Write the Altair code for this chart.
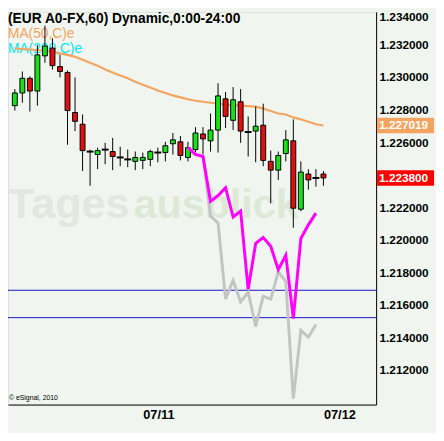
import altair as alt
import pandas as pd

# ---------------- data ----------------
idx = list(range(1, 43))
opens = [1.22824, 1.22902, 1.22992, 1.22914, 1.23130, 1.23178, 1.23064, 1.23028, 1.22782, 1.22710,
         1.22542, 1.22524, 1.22554, 1.22542, 1.22506, 1.22494, 1.22482, 1.22488, 1.22494, 1.22536,
         1.22536, 1.22590, 1.22602, 1.22506, 1.22554, 1.22650, 1.22608, 1.22674, 1.22866, 1.22734,
         1.22848, 1.22662, 1.22668, 1.22704, 1.22482, 1.22428, 1.22530, 1.22608, 1.22188, 1.22404,
         1.22380, 1.22404]
highs = [1.22926, 1.23034, 1.23004, 1.23196, 1.23316, 1.23238, 1.23136, 1.23040, 1.22998, 1.22770,
         1.22554, 1.22566, 1.22596, 1.22626, 1.22572, 1.22554, 1.22542, 1.22536, 1.22554, 1.22566,
         1.22602, 1.22656, 1.22638, 1.22602, 1.22692, 1.22692, 1.22776, 1.22962, 1.22908, 1.22938,
         1.22926, 1.22758, 1.22818, 1.22836, 1.22548, 1.22542, 1.22674, 1.22740, 1.22482, 1.22434,
         1.22434, 1.22422]
lows = [1.22794, 1.22842, 1.22788, 1.22824, 1.23088, 1.23046, 1.22998, 1.22584, 1.22668, 1.22422,
        1.22332, 1.22434, 1.22464, 1.22428, 1.22452, 1.22446, 1.22428, 1.22434, 1.22452, 1.22476,
        1.22482, 1.22524, 1.22488, 1.22482, 1.22536, 1.22524, 1.22542, 1.22536, 1.22686, 1.22674,
        1.22596, 1.22512, 1.22476, 1.22452, 1.22224, 1.22368, 1.22482, 1.22074, 1.22176, 1.22308,
        1.22326, 1.22332]
closes = [1.22902, 1.22992, 1.22914, 1.23136, 1.23190, 1.23070, 1.23034, 1.22794, 1.22728, 1.22548,
          1.22542, 1.22548, 1.22554, 1.22512, 1.22506, 1.22494, 1.22506, 1.22506, 1.22542, 1.22536,
          1.22578, 1.22614, 1.22518, 1.22566, 1.22656, 1.22620, 1.22674, 1.22884, 1.22758, 1.22860,
          1.22668, 1.22662, 1.22698, 1.22488, 1.22428, 1.22518, 1.22614, 1.22194, 1.22416, 1.22368,
          1.22380, 1.22380]
ma50 = [1.23175, 1.23172, 1.23169, 1.23166, 1.23160, 1.23154, 1.23145, 1.23136, 1.23124, 1.23106,
        1.23088, 1.23070, 1.23046, 1.23028, 1.23010, 1.22992, 1.22971, 1.22953, 1.22935, 1.22917,
        1.22902, 1.22887, 1.22875, 1.22863, 1.22854, 1.22848, 1.22842, 1.22836, 1.22830, 1.22827,
        1.22824, 1.22821, 1.22818, 1.22806, 1.22791, 1.22776, 1.22770, 1.22752, 1.22740, 1.22725,
        1.22710, 1.22702]
ind_idx = list(range(24, 42))
magenta_vals = [1.22566, 1.22524, 1.22512, 1.22236, 1.22272, 1.22320, 1.22140, 1.22176, 1.21696,
                1.21978, 1.22014, 1.21960, 1.21816, 1.21906, 1.21516, 1.22008, 1.22092, 1.22164]
gray_vals = [1.22566, 1.22524, 1.22512, 1.22146, 1.22104, 1.21636, 1.21750, 1.21618, 1.21678,
             1.21468, 1.21654, 1.21636, 1.21804, 1.21744, 1.21024, 1.21444, 1.21402, 1.21480]
levels = [1.21690, 1.21522]
# 1.224000 is hidden behind the last-price badge in the reference
y_ticks = [1.212, 1.214, 1.216, 1.218, 1.220, 1.222, 1.226, 1.228, 1.230, 1.232, 1.234]
x_tick_idx = [18, 42]
x_tick_labels = ["07/11", "07/12"]
badge_vals = [1.227019, 1.223800]
badge_colors = ["#f4a460", "#ff0000"]
title_text = "(EUR A0-FX,60) Dynamic,0:00-24:00"
legend_texts = ["MA(50,C)e", "MA(200,C)e"]
legend_colors = ["#f4a460", "#00e8f0"]

FONT = "Liberation Sans"
BG = "#f0f6ef"

candles = pd.DataFrame({"i": idx, "o": opens, "h": highs, "l": lows, "c": closes})
ma_df = pd.DataFrame({"i": idx, "v": ma50})
mag_df = pd.DataFrame({"i": ind_idx, "v": magenta_vals})
gray_df = pd.DataFrame({"i": ind_idx, "v": gray_vals})
lev_df = pd.DataFrame({"v": levels})
badge_df = pd.DataFrame({"v": badge_vals, "col": badge_colors})

label_expr = " : ".join(
    [f"datum.value == {v} ? '{t}'" for v, t in zip(x_tick_idx, x_tick_labels)]) + " : ''"

xscale = alt.Scale(domain=[0.746, 48.347], nice=False, zero=False)
yscale = alt.Scale(domain=[1.20988, 1.234], nice=False, zero=False)

X = alt.X("i:Q", scale=xscale, axis=alt.Axis(
    values=x_tick_idx, labelExpr=label_expr, orient="bottom", grid=False, ticks=False,
    domainColor="black", labelAlign="left", labelFont=FONT, labelFontSize=13,
    labelFontWeight="bold", labelColor="black", labelPadding=4, title=None))


def Y(field):
    return alt.Y(field, scale=yscale, axis=alt.Axis(
        values=y_ticks, format=".6f", orient="right", grid=False, ticks=False,
        domainColor="black", labelFont=FONT, labelFontSize=12, labelFontWeight="bold",
        labelColor="black", labelPadding=3, labelFlush=True, title=None))


one = pd.DataFrame({"k": [0]})

watermark1 = alt.Chart(one).mark_text(
    text="Tages", font=FONT, fontSize=44, fontWeight="bold", color="#e2e7e1",
    align="left", baseline="alphabetic").encode(x=alt.value(0), y=alt.value(210))
watermark2 = alt.Chart(one).mark_text(
    text="ausblick", font=FONT, fontSize=42, fontWeight="bold", color="#dde9d6",
    align="left", baseline="alphabetic").encode(x=alt.value(128), y=alt.value(210))

title = alt.Chart(one).mark_text(
    text=title_text, font=FONT, fontSize=14, fontWeight="bold", color="black",
    align="left", baseline="top").encode(x=alt.value(0), y=alt.value(0))
leg1 = alt.Chart(one).mark_text(
    text=legend_texts[0], font=FONT, fontSize=14, color=legend_colors[0],
    align="left", baseline="middle").encode(x=alt.value(0), y=alt.value(23))
leg2 = alt.Chart(one).mark_text(
    text=legend_texts[1], font=FONT, fontSize=14, color=legend_colors[1],
    align="left", baseline="middle").encode(x=alt.value(0), y=alt.value(38))
copyright_t = alt.Chart(one).mark_text(
    text="© eSignal, 2010", font=FONT, fontSize=7, color="black",
    align="left", baseline="middle").encode(x=alt.value(1), y=alt.value(393))

hlines = alt.Chart(lev_df).mark_rule(color="#1414c8", strokeWidth=1).encode(y=Y("v:Q"))

ma_line = alt.Chart(ma_df).mark_line(color="#f4a460", strokeWidth=2.2).encode(x=X, y=Y("v:Q"))

base = alt.Chart(candles).transform_calculate(
    dir="datum.c > datum.o ? 'up' : (datum.c < datum.o ? 'down' : 'doji')")

wicks = base.mark_rule(color="black", strokeWidth=1).encode(x=X, y=Y("l:Q"), y2="h:Q")
bodies = base.transform_filter("datum.dir != 'doji'").mark_bar(
    size=5, stroke="black", strokeWidth=1).encode(
    x=X, y=Y("o:Q"), y2="c:Q",
    color=alt.Color("dir:N", scale=alt.Scale(domain=["up", "down"], range=["#16e016", "#e01010"]),
                    legend=None))
dojis = base.transform_filter("datum.dir == 'doji'").mark_tick(
    orient="horizontal", thickness=2, size=7, color="black", opacity=1).encode(x=X, y=Y("o:Q"))

gray_line = alt.Chart(gray_df).mark_line(color="#c4c4c4", strokeWidth=3).encode(x=X, y=Y("v:Q"))
mag_line = alt.Chart(mag_df).mark_line(color="#ff00ff", strokeWidth=3).encode(x=X, y=Y("v:Q"))

badge_base = alt.Chart(badge_df).transform_calculate(
    lo="datum.v - 0.00048", hi="datum.v + 0.00048")
badge_rect = badge_base.mark_rect().encode(
    x=alt.value(376), x2=alt.value(434), y=Y("lo:Q"), y2="hi:Q",
    color=alt.Color("col:N", scale=None))
badge_text = badge_base.mark_text(
    align="left", baseline="middle", color="white", font=FONT, fontSize=12,
    fontWeight="bold").encode(x=alt.value(378), y=Y("v:Q"), text=alt.Text("v:Q", format=".6f"))

chart = alt.layer(
    watermark1, watermark2, title, leg1, leg2, copyright_t,
    hlines, ma_line, wicks, bodies, dojis, gray_line, mag_line,
    badge_rect, badge_text
).properties(
    width=375, height=400,
    padding={"left": 0, "top": 0, "right": 61, "bottom": 25},
    autosize="none"
).configure_view(stroke=None).configure(background=BG)

chart.save("out.html", embed_options={"renderer": "svg", "actions": False})
